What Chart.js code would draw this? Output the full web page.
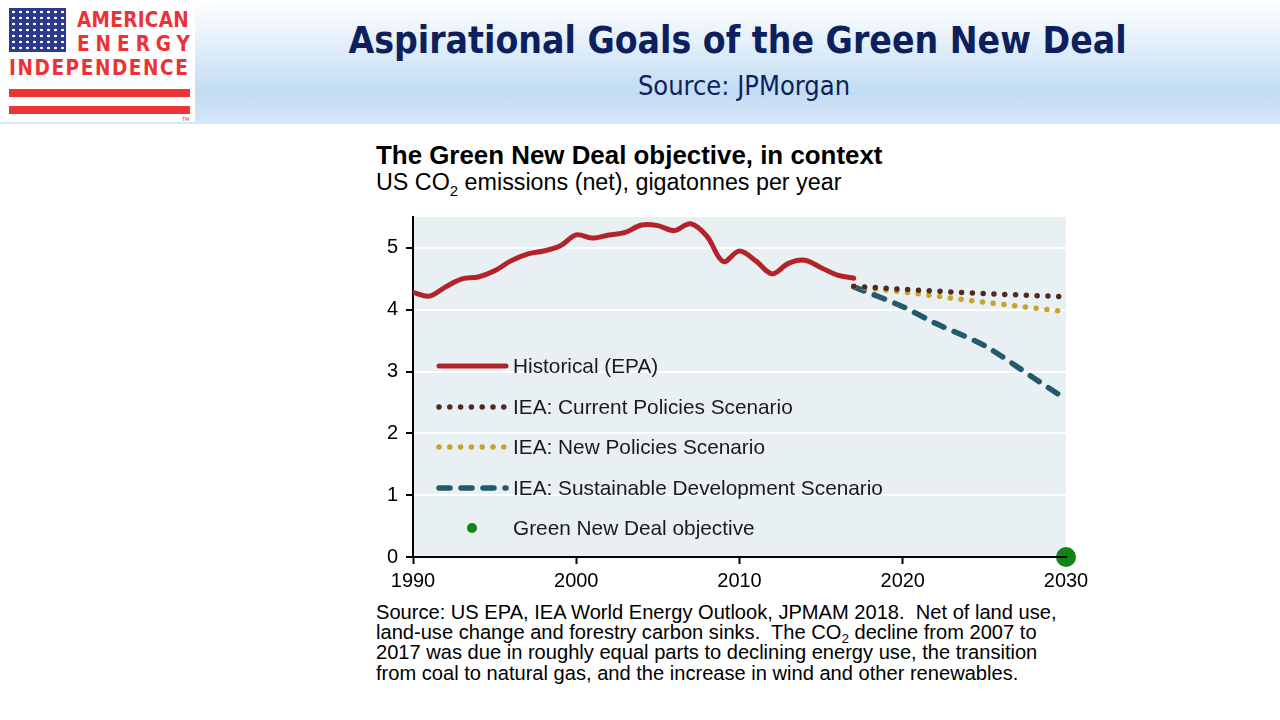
<!DOCTYPE html>
<html>
<head>
<meta charset="utf-8">
<script src="https://cdn.jsdelivr.net/npm/chart.js@4.4.0/dist/chart.umd.min.js"></script>
<style>
  html, body { margin: 0; padding: 0; }
  body { width: 1280px; height: 720px; position: relative; overflow: hidden; background: #fff; font-family: "Liberation Sans", Arial, sans-serif; }
  .header { position: absolute; left: 0; top: 0; width: 1280px; height: 124px;
    background: linear-gradient(to bottom, #ffffff 0%, #e3effa 35%, #c2dcf2 75%, #d6e7f7 100%); }
  .logo { position: absolute; left: 0; top: 0; width: 195px; height: 122px; background: #fff; }
  .flag { position: absolute; left: 9px; top: 8px; width: 57px; height: 44px; background-color: #2b3a8e;
    background-image: radial-gradient(circle, #fff 1.1px, transparent 1.6px);
    background-size: 7px 6px; background-position: 1px 1px; }
  .lg { position: absolute; color: #ec3237; font-family: "DejaVu Sans Condensed", "DejaVu Sans", sans-serif; font-weight: bold; font-size: 20.5px; line-height: 1; }
  .stripe { position: absolute; left: 9px; width: 181px; height: 8px; background: #ee3535; }
  .tm { position: absolute; left: 182px; top: 116px; font-size: 5px; color: #c33; font-family: "DejaVu Sans"; }
  .title { position: absolute; left: 195px; width: 1085px; top: 22px; text-align: center;
    font-family: "DejaVu Sans Condensed", "DejaVu Sans", sans-serif; font-weight: bold; font-size: 37px; color: #0d1f5c; line-height: 1; }
  .subtitle { position: absolute; left: 195px; width: 1098px; top: 72px; text-align: center;
    font-family: "DejaVu Sans Condensed", "DejaVu Sans", sans-serif; font-size: 27px; color: #0d1f5c; line-height: 1; }
  .ctitle { position: absolute; left: 376px; top: 143px; font-weight: bold; font-size: 25.9px; color: #000; line-height: 1; }
  .csub { position: absolute; left: 376px; top: 171px; font-size: 23.3px; color: #000; line-height: 1; }
  .csub sub { font-size: 15px; vertical-align: -6px; }
  .chartbox { position: absolute; left: 370px; top: 205px; width: 730px; height: 392px; }
  .note { position: absolute; left: 376px; top: 602px; font-size: 20.1px; line-height: 20.2px; color: #000; white-space: pre; }
  .note sub { font-size: 13.5px; vertical-align: -4px; line-height: 0; }
</style>
</head>
<body>
<div class="header"></div>
<div class="logo">
  <div class="flag"></div>
  <div class="lg" style="left:77px; top:10px; letter-spacing:0.3px;">AMERICAN</div>
  <div class="lg" style="left:77px; top:34px; letter-spacing:6px;">ENERGY</div>
  <div class="lg" style="left:9px; top:58px; letter-spacing:1.6px;">INDEPENDENCE</div>
  <div class="stripe" style="top:89px;"></div>
  <div class="stripe" style="top:106px;"></div>
  <div class="tm">TM</div>
</div>
<div class="title">Aspirational Goals of the Green New Deal</div>
<div class="subtitle">Source: JPMorgan</div>
<div class="ctitle">The Green New Deal objective, in context</div>
<div class="csub">US CO<sub>2</sub> emissions (net), gigatonnes per year</div>
<div class="chartbox"><canvas id="co2Chart"></canvas></div>
<div class="note">Source: US EPA, IEA World Energy Outlook, JPMAM 2018.  Net of land use,
land-use change and forestry carbon sinks.  The CO<sub>2</sub> decline from 2007 to
2017 was due in roughly equal parts to declining energy use, the transition
from coal to natural gas, and the increase in wind and other renewables.</div>

<script>
'use strict';

// --- data ---
const histYears = [1990, 1991, 1992, 1993, 1994, 1995, 1996, 1997, 1998, 1999,
                   2000, 2001, 2002, 2003, 2004, 2005, 2006, 2007, 2008, 2009,
                   2010, 2011, 2012, 2013, 2014, 2015, 2016, 2017];
const histValues = [4.28, 4.22, 4.37, 4.50, 4.53, 4.63, 4.79, 4.90, 4.95, 5.03,
                    5.21, 5.16, 5.21, 5.25, 5.37, 5.36, 5.28, 5.39, 5.19, 4.78,
                    4.95, 4.79, 4.58, 4.75, 4.80, 4.68, 4.56, 4.51];

const scenarioYears = [2017, 2020, 2025, 2030];
const currentValues = [4.38, 4.33, 4.26, 4.21];
const newValues = [4.37, 4.29, 4.12, 3.97];

const sdsYears = [2017, 2020, 2022, 2025, 2028, 2030];
const sdsValues = [4.37, 4.05, 3.78, 3.42, 2.90, 2.55];

const gndYears = [2030];
const gndValues = [0];

const xTicks = [1990, 2000, 2010, 2020, 2030];
const yTicks = [0, 1, 2, 3, 4, 5];

const seriesNames = [
    'Historical (EPA)',
    'IEA: Current Policies Scenario',
    'IEA: New Policies Scenario',
    'IEA: Sustainable Development Scenario',
    'Green New Deal objective'
];

const colRed = '#b3242a';
const colBrown = '#4f2a1d';
const colGold = '#c9a22a';
const colTeal = '#235b6c';
const colGreen = '#128412';
const FONT = "'Liberation Sans', Arial, sans-serif";

const toPoints = (xs, ys) => xs.map((x, i) => ({ x: x, y: ys[i] }));

// plot background
const plotBg = {
    id: 'plotBg',
    beforeDraw(chart) {
        const a = chart.chartArea, c = chart.ctx;
        c.save();
        c.fillStyle = '#e9f0f4';
        c.fillRect(a.left, a.top, a.right - a.left, a.bottom - a.top);
        c.restore();
    }
};

// legend drawn inside the plot, as in the original
const insideLegend = {
    id: 'insideLegend',
    afterDatasetsDraw(chart) {
        const a = chart.chartArea, c = chart.ctx;
        const rows = [149, 190, 230, 271, 311];
        c.save();
        c.font = '20.8px ' + FONT;
        c.textBaseline = 'middle';
        c.fillStyle = '#1a1a1a';
        chart.data.datasets.forEach((ds, i) => {
            const y = a.top + rows[i];
            const x0 = a.left + 26, x1 = a.left + 93;
            if (ds.showLine !== false) {
                c.beginPath();
                c.strokeStyle = ds.borderColor;
                c.lineWidth = ds.borderWidth;
                c.lineCap = ds.borderCapStyle || 'butt';
                c.setLineDash(ds.borderDash || []);
                c.moveTo(x0, y);
                c.lineTo(x1, y);
                c.stroke();
            } else {
                c.beginPath();
                c.fillStyle = ds.backgroundColor;
                c.arc(a.left + 59, y, 5, 0, Math.PI * 2);
                c.fill();
                c.fillStyle = '#1a1a1a';
            }
            c.setLineDash([]);
            c.fillText(seriesNames[i], a.left + 100, y + 1);
        });
        c.restore();
    }
};

new Chart(document.getElementById('co2Chart'), {
    type: 'line',
    data: {
        datasets: [
            {
                data: toPoints(histYears, histValues),
                borderColor: colRed, borderWidth: 5, tension: 0.35,
                borderCapStyle: 'round', pointRadius: 0
            },
            {
                data: toPoints(scenarioYears, currentValues),
                borderColor: colBrown, borderWidth: 5.5, borderDash: [0, 10.8],
                borderCapStyle: 'round', pointRadius: 0
            },
            {
                data: toPoints(scenarioYears, newValues),
                borderColor: colGold, borderWidth: 5.5, borderDash: [0, 10.8],
                borderCapStyle: 'round', pointRadius: 0
            },
            {
                data: toPoints(sdsYears, sdsValues),
                borderColor: colTeal, borderWidth: 5.5, borderDash: [11, 11],
                borderCapStyle: 'round', tension: 0.3, pointRadius: 0
            },
            {
                data: toPoints(gndYears, gndValues),
                showLine: false, backgroundColor: colGreen, borderColor: colGreen,
                pointRadius: 10, pointBorderWidth: 0, clip: false
            }
        ]
    },
    options: {
        responsive: true, maintainAspectRatio: false,
        animation: false,
        layout: { padding: { top: 12, right: 34, left: 0, bottom: 0 } },
        plugins: { legend: { display: false }, tooltip: { enabled: false } },
        scales: {
            x: {
                type: 'linear', min: 1990, max: 2030,
                afterBuildTicks: (s) => { s.ticks = xTicks.map(v => ({ value: v })); },
                afterFit: (s) => { s.height = 40; },
                grid: { drawOnChartArea: false, drawTicks: true, tickLength: 7, tickColor: '#000', tickWidth: 2 },
                border: { color: '#000', width: 2, z: 2 },
                ticks: { color: '#000', font: { family: FONT, size: 20 }, padding: 5, maxRotation: 0,
                         callback: (v) => String(v) }
            },
            y: {
                min: 0, max: 5.5,
                afterBuildTicks: (s) => { s.ticks = yTicks.map(v => ({ value: v })); },
                afterFit: (s) => { s.width = 43; s.paddingTop = 0; s.paddingBottom = 0; },
                grid: {
                    color: (ctx) => (ctx.tick && ctx.tick.value === 0) ? 'rgba(0,0,0,0)' : '#ffffff',
                    lineWidth: 2, drawTicks: true, tickLength: 7, tickColor: '#000', tickWidth: 2
                },
                border: { color: '#000', width: 2 },
                ticks: { color: '#000', font: { family: FONT, size: 20 }, padding: 8,
                         callback: (v) => String(v) }
            }
        }
    },
    plugins: [plotBg, insideLegend]
});
</script>
</body>
</html>
